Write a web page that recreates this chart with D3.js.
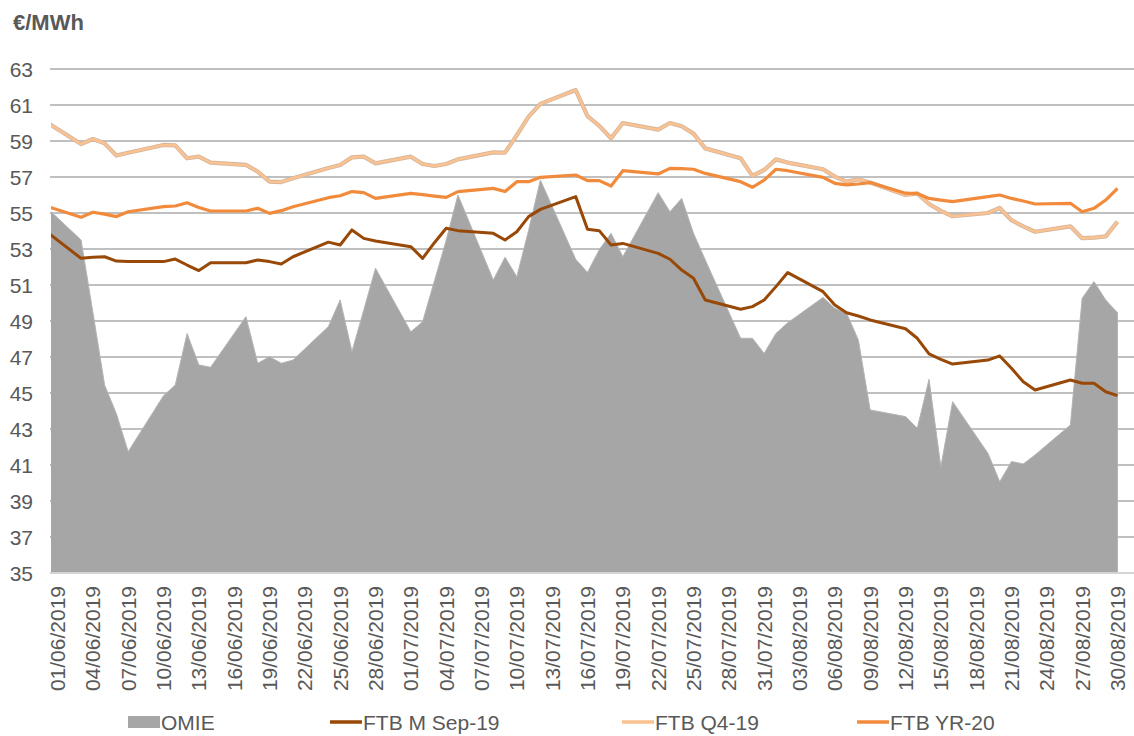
<!DOCTYPE html>
<html><head><meta charset="utf-8">
<script src="https://cdn.jsdelivr.net/npm/d3@7"></script>
<style>
body{margin:0;background:#fff}
svg{display:block}
text{font-family:"Liberation Sans",Arial,sans-serif;fill:#595959}
</style>
</head><body>
<svg id="chart" width="1134" height="736"></svg>
<script>
// ---------- DATA ----------
const tradingDays = [
 "31/05/2019",
 "03/06/2019","04/06/2019","05/06/2019","06/06/2019","07/06/2019",
 "10/06/2019","11/06/2019","12/06/2019","13/06/2019","14/06/2019",
 "17/06/2019","18/06/2019","19/06/2019","20/06/2019","21/06/2019",
 "24/06/2019","25/06/2019","26/06/2019","27/06/2019","28/06/2019",
 "01/07/2019","02/07/2019","03/07/2019","04/07/2019","05/07/2019",
 "08/07/2019","09/07/2019","10/07/2019","11/07/2019","12/07/2019",
 "15/07/2019","16/07/2019","17/07/2019","18/07/2019","19/07/2019",
 "22/07/2019","23/07/2019","24/07/2019","25/07/2019","26/07/2019",
 "29/07/2019","30/07/2019","31/07/2019","01/08/2019","02/08/2019",
 "05/08/2019","06/08/2019","07/08/2019","08/08/2019","09/08/2019",
 "12/08/2019","13/08/2019","14/08/2019","15/08/2019","16/08/2019",
 "19/08/2019","20/08/2019","21/08/2019","22/08/2019","23/08/2019",
 "26/08/2019","27/08/2019","28/08/2019","29/08/2019","30/08/2019"
];
const omie = [
 55.35,
 53.5,49.5,45.44,43.85,41.74,
 44.85,45.44,48.3,46.56,46.43,
 49.24,46.65,47.02,46.65,46.83,
 48.69,50.17,47.3,49.6,51.93,
 48.4,48.96,51.22,53.48,56.0,
 51.28,52.54,51.46,54.04,56.83,
 52.43,51.7,52.96,53.87,52.57,
 56.13,55.07,55.81,53.87,52.39,
 48.04,48.04,47.2,48.31,48.9,
 50.31,49.7,49.43,47.94,44.06,
 43.69,43.04,45.76,40.9,44.52,
 41.65,40.07,41.19,41.06,41.56,
 43.22,50.26,51.19,50.17,49.46
];
const ftbSep19 = [
 54.0,
 52.48,52.54,52.57,52.33,52.3,
 52.3,52.44,52.11,51.8,52.24,
 52.24,52.39,52.3,52.17,52.57,
 53.38,53.22,54.06,53.59,53.44,
 53.13,52.48,53.35,54.15,54.02,
 53.87,53.5,53.96,54.8,55.2,
 55.91,54.1,54.02,53.22,53.31,
 52.76,52.43,51.83,51.37,50.17,
 49.65,49.8,50.17,50.91,51.69,
 50.63,49.89,49.46,49.28,49.06,
 48.57,48.04,47.17,46.87,46.61,
 46.83,47.06,46.37,45.63,45.17,
 45.72,45.54,45.54,45.07,44.85
];
const ftbQ419 = [
 60.07,
 58.83,59.11,58.87,58.19,58.35,
 58.78,58.76,58.04,58.13,57.8,
 57.67,57.3,56.74,56.72,56.93,
 57.5,57.67,58.09,58.13,57.76,
 58.13,57.72,57.61,57.72,57.98,
 58.37,58.35,59.33,60.35,61.06,
 61.83,60.38,59.84,59.15,60.0,
 59.63,60.0,59.82,59.41,58.59,
 58.04,57.06,57.39,57.98,57.8,
 57.43,57.02,56.74,56.87,56.69,
 56.0,56.09,55.5,55.12,54.82,
 55.0,55.28,54.6,54.26,53.96,
 54.26,53.6,53.63,53.7,54.52
];
const ftbYR20 = [
 55.39,
 54.76,55.04,54.94,54.8,55.07,
 55.35,55.39,55.57,55.31,55.11,
 55.11,55.26,54.98,55.13,55.35,
 55.85,55.96,56.19,56.13,55.81,
 56.09,56.02,55.94,55.87,56.19,
 56.37,56.19,56.74,56.74,56.98,
 57.11,56.8,56.8,56.5,57.35,
 57.17,57.48,57.46,57.43,57.2,
 56.74,56.43,56.83,57.43,57.35,
 56.98,56.65,56.56,56.61,56.69,
 56.1,56.08,55.81,55.72,55.63,
 55.91,56.0,55.81,55.67,55.5,
 55.54,55.07,55.26,55.72,56.37
];
const yTicks = [35,37,39,41,43,45,47,49,51,53,55,57,59,61,63];
const xTickLabels = [
 "01/06/2019","04/06/2019","07/06/2019","10/06/2019","13/06/2019","16/06/2019",
 "19/06/2019","22/06/2019","25/06/2019","28/06/2019","01/07/2019","04/07/2019",
 "07/07/2019","10/07/2019","13/07/2019","16/07/2019","19/07/2019","22/07/2019",
 "25/07/2019","28/07/2019","31/07/2019","03/08/2019","06/08/2019","09/08/2019",
 "12/08/2019","15/08/2019","18/08/2019","21/08/2019","24/08/2019","27/08/2019",
 "30/08/2019"
];
const seriesNames = ["OMIE","FTB M Sep-19","FTB Q4-19","FTB YR-20"];
const unitLabel = "€/MWh";

// ---------- LAYOUT ----------
const W = 1134, H = 736;
const plotLeft = 51, plotRight = 1134, plotTop = 69, plotBottom = 573;
const parse = d3.timeParse("%d/%m/%Y");
const dates = tradingDays.map(parse);

const x = d3.scaleTime()
  .domain([parse("01/06/2019"), parse("30/08/2019")])
  .range([57.5, 1117.5]);
const y = d3.scaleLinear().domain([35, 63]).range([plotBottom, plotTop]);

const svg = d3.select("#chart");

svg.append("defs").append("clipPath").attr("id","plotclip")
  .append("rect").attr("x", plotLeft).attr("y", 0)
  .attr("width", plotRight - plotLeft).attr("height", plotBottom + 1);

// gridlines
svg.append("g").selectAll("line").data(yTicks.filter(t => t > 35)).join("line")
  .attr("x1", plotLeft - 1).attr("x2", plotRight)
  .attr("y1", d => y(d)).attr("y2", d => y(d))
  .attr("stroke", "#c0c0c0").attr("stroke-width", 2);

const mk = arr => arr.map((v, i) => ({date: dates[i], v}));
const plot = svg.append("g").attr("clip-path", "url(#plotclip)");

// OMIE area
const area = d3.area().x(d => x(d.date)).y0(y(35)).y1(d => y(d.v));
plot.append("path").datum(mk(omie))
  .attr("d", area).attr("fill", "#a6a6a6")
  .attr("stroke", "#b4b4b4").attr("stroke-width", 1);

// baseline
svg.append("line").attr("x1", plotLeft - 1).attr("x2", plotRight)
  .attr("y1", y(35)).attr("y2", y(35))
  .attr("stroke", "#d4d4d4").attr("stroke-width", 2);

const line = d3.line().x(d => x(d.date)).y(d => y(d.v));
// FTB M Sep-19
plot.append("path").datum(mk(ftbSep19)).attr("d", line)
  .attr("fill", "none").attr("stroke", "#984807").attr("stroke-width", 3)
  .attr("stroke-linejoin", "round");
// FTB Q4-19
plot.append("path").datum(mk(ftbQ419)).attr("d", line)
  .attr("fill", "none").attr("stroke", "#d2b59f").attr("stroke-width", 4.2)
  .attr("stroke-linejoin", "round");
plot.append("path").datum(mk(ftbQ419)).attr("d", line)
  .attr("fill", "none").attr("stroke", "#fac291").attr("stroke-width", 2.6)
  .attr("stroke-linejoin", "round");
// FTB YR-20
plot.append("path").datum(mk(ftbYR20)).attr("d", line)
  .attr("fill", "none").attr("stroke", "#f28a3c").attr("stroke-width", 3.2)
  .attr("stroke-linejoin", "round");

// y labels
svg.append("g").selectAll("text").data(yTicks).join("text")
  .attr("x", 33).attr("y", d => y(d)).attr("dy", "0.36em")
  .attr("text-anchor", "end").attr("font-size", 21)
  .text(d => d);

// unit
svg.append("text").attr("x", 13).attr("y", 30)
  .attr("font-size", 22).attr("font-weight", "bold").text(unitLabel);

// x labels
svg.append("g").selectAll("text").data(xTickLabels).join("text")
  .attr("transform", d => `translate(${x(parse(d))},586) rotate(-90)`)
  .attr("dy", "0.36em").attr("text-anchor", "end").attr("font-size", 21)
  .text(d => d);

// legend
const legY = 722;
const legendItems = [
  {name: seriesNames[0], type: "rect", color: "#a6a6a6", x: 128},
  {name: seriesNames[1], type: "line", color: "#984807", x: 330},
  {name: seriesNames[2], type: "line", color: "#fac291", x: 622},
  {name: seriesNames[3], type: "line", color: "#f28a3c", x: 857}
];
const lg = svg.append("g");
legendItems.forEach(it => {
  if (it.type === "rect") {
    lg.append("rect").attr("x", it.x).attr("y", legY - 6).attr("width", 32).attr("height", 12)
      .attr("fill", it.color);
  } else {
    lg.append("line").attr("x1", it.x).attr("x2", it.x + 32)
      .attr("y1", legY).attr("y2", legY)
      .attr("stroke", it.color).attr("stroke-width", 3.5);
  }
  lg.append("text").attr("x", it.x + 33).attr("y", legY).attr("dy", "0.36em")
    .attr("font-size", 21).text(it.name);
});
</script>
</body></html>
